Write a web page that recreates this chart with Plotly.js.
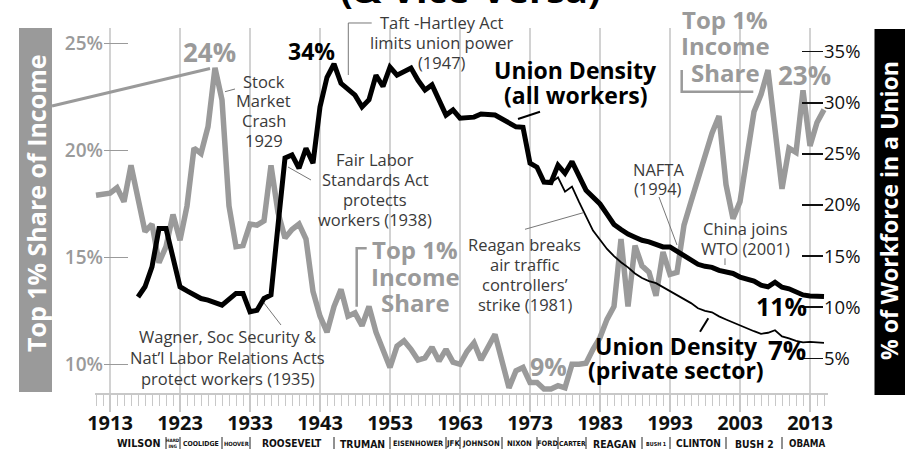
<!DOCTYPE html>
<html><head><meta charset="utf-8">
<script src="https://cdn.plot.ly/plotly-3.0.1.min.js"></script>
<style>html,body{margin:0;padding:0;background:#fff}#chart{width:905px;height:455px}</style>
</head><body><div id="chart"></div>
<script>
// ---------- DATA ----------
const incomeYears = [1911,1913,1914,1915,1916,1917,1918,1919,1920,1921,1922,1923,1924,1925,1926,1927,1928,1929,1930,1931,1932,1933,1934,1935,1936,1937,1938,1939,1940,1941,1942,1943,1944,1945,1946,1947,1948,1949,1950,1951,1953,1954,1955,1956,1957,1958,1959,1960,1961,1962,1963,1964,1965,1966,1968,1970,1971,1972,1973,1974,1975,1976,1977,1978,1979,1980,1981,1982,1983,1984,1985,1986,1987,1988,1989,1990,1991,1992,1993,1994,1995,1996,1997,1998,1999,2000,2001,2002,2003,2005,2006,2007,2008,2009,2010,2011,2012,2013,2014,2015];
const incomeShare = [17.9,18.0,18.25,17.6,19.3,17.75,16.2,16.55,14.75,15.5,17.0,15.8,17.4,20.1,19.85,21.1,23.85,22.35,17.4,15.5,15.55,16.55,16.5,16.7,19.3,17.1,15.9,16.3,16.55,15.85,13.4,12.25,11.5,12.7,13.5,12.25,12.4,11.8,12.7,11.5,9.85,10.85,11.1,10.7,10.2,10.3,10.8,10.15,10.7,10.1,10.0,10.6,11.0,10.2,11.4,8.9,9.7,9.85,9.15,9.15,8.85,8.85,9.0,8.9,10.0,10.0,10.05,10.7,11.25,12.1,12.7,15.85,12.7,15.55,14.6,14.3,13.2,15.25,14.2,14.3,16.5,17.6,18.7,19.9,20.8,21.6,18.4,16.8,17.6,21.8,22.6,23.75,20.9,18.2,20.1,19.9,22.8,20.2,21.3,21.9];

const unionYears = [1917,1918,1919,1920,1921,1923,1924,1925,1926,1927,1928,1929,1931,1932,1933,1934,1935,1936,1937,1938,1939,1940,1941,1942,1943,1944,1945,1946,1948,1949,1950,1951,1952,1953,1954,1955,1956,1957,1958,1959,1961,1962,1963,1965,1966,1968,1971,1972,1973,1974,1975,1976,1977,1978,1979,1981,1983,1984,1985,1986,1987,1988,1989,1990,1991,1992,1993,1994,1995,1996,1997,1998,1999,2000,2001,2002,2003,2004,2005,2006,2007,2008,2009,2010,2011,2012,2013,2014,2015];
const unionAll = [11.0,12.0,13.95,17.7,17.7,12.0,11.6,11.25,10.85,10.7,10.5,10.2,11.35,11.35,9.55,9.7,10.85,11.2,18.0,24.6,24.9,23.6,25.55,24.1,29.6,32.5,33.8,31.9,30.75,29.6,30.3,32.7,31.6,33.5,32.7,33.0,33.4,32.2,31.25,31.75,28.8,29.3,28.5,28.6,28.9,28.8,27.65,27.6,24.1,23.7,22.25,22.2,23.9,23.1,24.25,21.45,20.1,19.1,18.1,17.6,17.15,16.85,16.55,16.4,16.2,15.9,15.9,15.5,15.1,14.6,14.2,14.0,13.9,13.6,13.5,13.3,12.95,12.75,12.55,12.15,12.0,12.45,11.95,11.8,11.45,11.2,11.1,11.1,11.05];

const privateYears = [1976,1977,1978,1979,1980,1981,1982,1983,1984,1985,1986,1987,1988,1989,1990,1991,1992,1993,1994,1995,1996,1997,1998,1999,2000,2001,2002,2003,2004,2005,2006,2007,2008,2009,2010,2011,2012,2013,2014,2015];
const unionPrivate = [22.2,22.7,21.3,21.8,20.3,18.9,17.5,16.6,15.7,15.0,14.4,13.9,13.3,12.85,12.55,12.35,11.95,11.55,11.2,10.8,10.4,9.9,9.65,9.5,9.1,8.8,8.5,8.2,7.95,7.65,7.4,7.5,7.75,7.15,6.95,6.7,6.55,6.6,6.55,6.5];

const decadeTicks = [1913,1923,1933,1943,1953,1963,1973,1983,1993,2003,2013];
const leftTickVals = [10,15,20,25];
const leftTickText = ['10%','15%','20%','25%'];
const rightTickVals = [5,10,15,20,25,30,35];
const rightTickText = ['5%','10%','15%','20%','25%','30%','35%'];

const presidents = ['WILSON','HARD<br>ING','COOLIDGE','HOOVER','ROOSEVELT','TRUMAN','EISENHOWER','JFK','JOHNSON','NIXON','FORD','CARTER','REAGAN','BUSH 1','CLINTON','BUSH 2','OBAMA'];
const termStarts = [1913,1921,1923,1929,1933,1945,1953,1961,1963,1969,1974,1977,1981,1989,1993,2001,2009];
const lastTermEnd = 2016;

// ---------- STYLE / LAYOUT HELPERS ----------
const L = 95, R = 828, T = 28, B = 393;
const fx = X => (X - L) / (R - L);
const fy = Y => (B - Y) / (B - T);
const FONT = 'Open Sans, Noto Sans, sans-serif';
const NARROW = 'DejaVu Sans Condensed, sans-serif';
const GRAY = '#9a9a9a';
const TXT = '#3a3a3a';
const presSize = {'WILSON':10.7,'HARD<br>ING':4.6,'COOLIDGE':6.9,'HOOVER':5.8,'ROOSEVELT':10.2,'TRUMAN':10.3,'EISENHOWER':7.4,'JFK':7.8,'JOHNSON':7.7,'NIXON':7.6,'FORD':7.5,'CARTER':6.8,'REAGAN':10.3,'BUSH 1':5.4,'CLINTON':10.1,'BUSH 2':10.3,'OBAMA':9.7};

function txt(text, X, Y, size, color, bold, extra) {
  return Object.assign({xref:'paper', yref:'paper', x:fx(X), y:fy(Y), xanchor:'center', yanchor:'middle',
    text:text, showarrow:false, font:{family:FONT, size:size, color:color, weight: bold ? 'bold' : 'normal'}}, extra || {});
}
function block(lines, X, Y0, step, size, color, bold) {
  return lines.map((s, i) => txt(s, X, Y0 + i * step, size, color, bold));
}
function seg(pts, color, width) {
  let d = pts.map((p, i) => (i ? 'L' : 'M') + fx(p[0]).toFixed(5) + ',' + fy(p[1]).toFixed(5)).join(' ');
  return {type:'path', xref:'paper', yref:'paper', path:d, line:{color:color, width:width}};
}

// ---------- TRACES ----------
const traces = [
  {x:incomeYears, y:incomeShare, yaxis:'y', mode:'lines', line:{color:GRAY, width:5.5}, hoverinfo:'skip', name:'Top 1% Income Share'},
  {x:privateYears, y:unionPrivate, yaxis:'y2', mode:'lines', line:{color:'#000', width:1.8}, hoverinfo:'skip', name:'Union Density (private sector)'},
  {x:unionYears, y:unionAll, yaxis:'y2', mode:'lines', line:{color:'#000', width:5}, hoverinfo:'skip', name:'Union Density (all workers)'}
];

// ---------- ANNOTATIONS ----------
let ann = [];
ann.push(txt('(&amp; Vice-Versa)', 470, -12, 38, '#000', true));
ann.push(txt('Top 1% Share of Income', 35.5, 203.5, 25, '#fff', true, {textangle:-90}));
ann.push(txt('% of Workforce in a Union', 888.5, 210.5, 23, '#fff', true, {textangle:-90}));

ann.push(txt('24%', 209.5, 52, 26, GRAY, true));
ann.push(txt('23%', 804, 75, 26, GRAY, true));
ann.push(txt('9%', 548, 366, 25, GRAY, true));
ann = ann.concat(block(['Top 1%','Income','Share'], 415, 250, 26, 24, GRAY, true));
ann = ann.concat(block(['Top 1%','Income','Share'], 725, 19.5, 26.3, 24, GRAY, true));

ann.push(txt('34%', 311.5, 50.5, 23, '#000', true));
ann.push(txt('11%', 781, 306, 25, '#000', true));
ann.push(txt('7%', 786.5, 350, 26, '#000', true));
ann = ann.concat(block(['Union Density','(all workers)'], 575.5, 70, 25, 23, '#000', true));
ann = ann.concat(block(['Union Density','(private sector)'], 676, 346, 24, 23, '#000', true));

ann = ann.concat(block(['Stock','Market','Crash','1929'], 263.5, 81.5, 19.5, 16.5, TXT, false));
ann = ann.concat(block(['Taft -Hartley Act','limits union power','(1947)'], 442, 22, 20.2, 16.5, TXT, false));
ann = ann.concat(block(['Fair Labor','Standards Act','protects','workers (1938)'], 375, 160, 19.8, 16.5, TXT, false));
ann = ann.concat(block(['Wagner, Soc Security &amp;','Nat’l Labor Relations Acts','protect workers (1935)'], 227.5, 336.5, 21, 16.5, TXT, false));
ann = ann.concat(block(['Reagan breaks','air traffic','controllers’','strike (1981)'], 524.5, 244, 20, 16.5, TXT, false));
ann = ann.concat(block(['NAFTA','(1994)'], 658, 169.5, 19, 16.5, TXT, false));
ann = ann.concat(block(['China joins','WTO (2001)'], 745.5, 228, 20, 16.5, TXT, false));

// presidents row
presidents.forEach((p, i) => {
  const end = i < termStarts.length - 1 ? termStarts[i + 1] : lastTermEnd;
  ann.push({xref:'x', yref:'paper', x:(termStarts[i] + end) / 2, y:fy(443.5), xanchor:'center', yanchor:'middle',
    text:p, showarrow:false, font:{family:NARROW, size:presSize[p], color:'#111', weight:'bold'}});
});

// ---------- SHAPES ----------
let shapes = [
  {type:'rect', xref:'paper', yref:'paper', x0:fx(19), x1:fx(52), y0:fy(392), y1:fy(28), fillcolor:GRAY, line:{width:0}, layer:'below'},
  {type:'rect', xref:'paper', yref:'paper', x0:fx(874.5), x1:fx(910), y0:fy(395), y1:fy(29), fillcolor:'#000', line:{width:0}, layer:'below'},
  seg([[52,106],[210,68.5]], GRAY, 3),
  seg([[366.7,248.3],[356.7,248.3],[356.7,306.7]], GRAY, 2.5),
  seg([[681.7,70],[681.7,91.7],[753.3,91.7]], GRAY, 2.5),
  seg([[225,91.7],[235,89]], '#777', 1),
  seg([[348.3,75],[348.3,23],[371.7,23]], '#777', 1),
  seg([[288,167],[311,180]], '#777', 1),
  seg([[264,303],[281,325]], '#777', 1),
  seg([[525,229.3],[583.3,212.7]], '#777', 1),
  seg([[659,197],[677,245]], '#777', 1),
  seg([[725,258.3],[725,265]], '#777', 1),
  seg([[518,119],[540,111.7]], '#000', 2),
  seg([[700,331.7],[708.3,318.3]], '#000', 2)
];
termStarts.slice(1).forEach(yr => {
  shapes.push({type:'line', xref:'x', yref:'paper', x0:yr, x1:yr, y0:fy(449), y1:fy(437), line:{color:'#222', width:1}});
});

const layout = {
  width:905, height:455,
  margin:{l:L, r:905 - R, t:T, b:455 - B, pad:0},
  paper_bgcolor:'#fff', plot_bgcolor:'rgba(0,0,0,0)',
  showlegend:false,
  font:{family:FONT},
  xaxis:{range:[1913 + (L - 110) / 7, 1913 + (R - 110) / 7], tickmode:'array', tickvals:decadeTicks, ticktext:decadeTicks.map(String),
    ticks:'outside', ticklen:17, tickwidth:1.5, tickcolor:'#c8c8c8', ticklabelstandoff:-6,
    showgrid:true, gridcolor:'#d2d2d2', gridwidth:1.5, showline:true, linecolor:'#c8c8c8', linewidth:1.5, zeroline:false,
    minor:{dtick:1, tick0:1913, ticks:'outside', ticklen:11, tickwidth:1, tickcolor:'#c8c8c8', showgrid:false},
    tickfont:{family:FONT, size:20, color:'#111', weight:'bold'}, fixedrange:true},
  yaxis:{range:[8.659, 25.715], tickvals:leftTickVals, ticktext:leftTickText, ticks:'inside', ticklen:24, tickwidth:1.5, tickcolor:GRAY,
    showgrid:false, zeroline:false, showline:false, anchor:'free', position:fx(103),
    tickfont:{family:FONT, size:19, color:GRAY, weight:600}, fixedrange:true},
  yaxis2:{range:[1.605, 37.32], tickvals:rightTickVals, ticktext:rightTickText, overlaying:'y', side:'right', anchor:'free', position:fx(823),
    ticks:'inside', ticklen:21, tickwidth:1.5, tickcolor:'#111', showgrid:false, zeroline:false, showline:false,
    tickfont:{family:FONT, size:18.5, color:'#111'}, fixedrange:true},
  annotations:ann,
  shapes:shapes
};

Plotly.newPlot('chart', traces, layout, {displayModeBar:false, staticPlot:true});
</script></body></html>
